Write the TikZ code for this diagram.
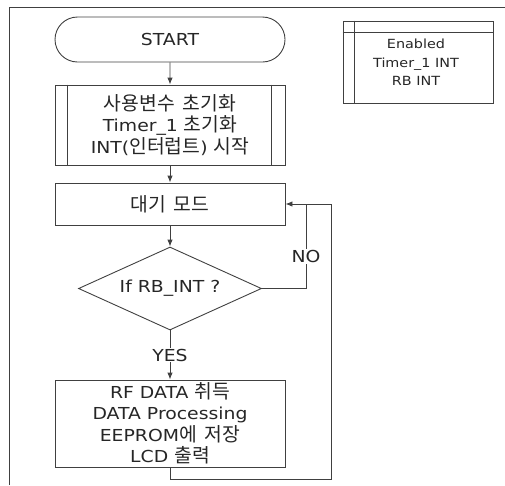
\documentclass[tikz,border=0pt]{standalone}
\usepackage{fontspec}
\setmainfont[FakeStretch=1.14]{DejaVu Sans}
\newfontfamily\kr[Scale=1.17,WordSpace=1.8]{Noto Sans CJK KR}
\usetikzlibrary{shapes.misc,shapes.geometric,arrows.meta}
\tikzset{
  line/.style={draw=black!75,line width=0.9pt},
  startbox/.style={line,rounded rectangle,minimum width=230pt,minimum height=45pt,inner sep=0pt},
  procbox/.style={line,rectangle,minimum width=230pt,align=center,inner sep=0pt},
  decision/.style={line,diamond,minimum width=183pt,minimum height=83pt,inner sep=0pt,shape aspect=2.2},
  tag/.style={fill=white,inner sep=1pt},
}
\begin{document}
\begin{tikzpicture}[x=1pt,y=-1pt,>={Latex[length=7pt,width=5.5pt]},
    font=\fontsize{16.5}{21.5}\selectfont,text=black!85]
\useasboundingbox (0,0) rectangle (505,485);
\draw[line] (9,485) -- (9,7) -- (505,7);
% flow boxes
\node[startbox] (start) at (170,39.5) {START};
\node[procbox,minimum height=80pt] (init) at (170,125)
    {{\kr 사용변수 초기화}\\Timer\_1 {\kr 초기화}\\INT({\kr 인터럽트}) {\kr 시작}};
\draw[line] ([xshift=13pt]init.north west) -- ([xshift=13pt]init.south west);
\draw[line] ([xshift=-14pt]init.north east) -- ([xshift=-14pt]init.south east);
\node[procbox,minimum height=42pt] (wait) at (170,204) {{\kr 대기 모드}};
\node[decision] (cond) at (170,288.5) {If RB\_INT ?};
\node[procbox,minimum height=87pt] (work) at (170,423.5)
    {RF DATA {\kr 취득}\\DATA Processing\\EEPROM{\kr 에 저장}\\LCD {\kr 출력}};
% memo
\node[line,minimum width=150pt,minimum height=82pt,inner sep=0pt] (memo) at (418,62) {};
\draw[line] ([yshift=-12pt]memo.north west) -- ([yshift=-12pt]memo.north east);
\draw[line] ([xshift=12pt]memo.north west) -- ([xshift=12pt]memo.south west);
\node[align=center,font=\fontsize{12.6}{18.5}\selectfont] (memotext) at (416,62.5)
    {Enabled\\Timer\_1 INT\\RB INT};
% connectors
\draw[line,->] (start) -- (init);
\draw[line,->] (init) -- (wait);
\draw[line,->] (wait) -- (cond);
\draw[line,->] (cond) -- node[tag]{YES} (work);
\coordinate (noturn) at (306,204);
\draw[line] (cond.east) -| node[tag,pos=0.69]{NO} (noturn);
\coordinate (loopbot) at (331,479);
\draw[line,->] (work.south) |- (loopbot) |- (wait.east);
\end{tikzpicture}
\end{document}
